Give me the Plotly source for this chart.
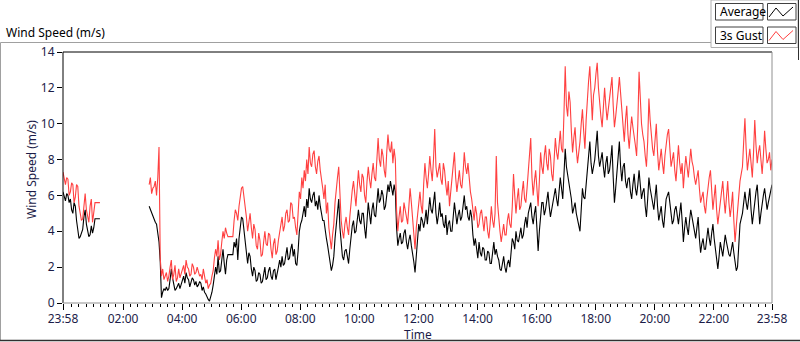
import plotly.graph_objects as go

# ---- data: 2.5-minute samples, starting 23:58 (24 values per hour row) ----
N = None
gust = [
    7.3, 6.8, 6.6, 7.0, 6.9, 6.0, 6.2, 6.7, 6.6, 5.6, 5.9, 6.6, 6.5, 5.4, 5.0, 4.6, 4.7, 5.6, 6.1, 5.2, 4.9, 4.5, 5.4, 5.8,
    4.5, 5.2, 5.6, 5.6, 5.6, 5.6, 5.6, N, N, N, N, N, N, N, N, N, N, N, N, N, N, N, N, N,
    N, N, N, N, N, N, N, N, N, N, N, N, N, N, N, N, N, N, N, N, N, N, 6.6, 7.0,
    6.1, 6.4, 6.5, 6.8, 6.0, 7.0, 8.7, 2.5, 1.5, 1.9, 1.3, 1.5, 1.7, 1.2, 1.5, 2.0, 2.4, 1.3, 1.6, 2.1, 1.2, 1.4, 1.9, 1.4,
    1.6, 1.9, 2.1, 1.6, 2.4, 2.0, 1.9, 1.5, 1.6, 2.2, 2.0, 1.6, 1.7, 2.0, 1.8, 1.5, 1.6, 1.3, 1.9, 1.4, 1.1, 1.3, 0.8, 1.0,
    1.1, 1.5, 1.8, 2.5, 3.0, 2.6, 3.5, 2.4, 2.7, 3.4, 4.0, 3.6, 4.2, 3.9, 3.7, 3.7, 3.7, 3.7, 3.7, 4.6, 5.2, 5.0, 4.6, 5.4,
    5.8, 6.4, 6.5, 5.9, 5.6, 4.8, 4.0, 4.6, 5.0, 4.2, 3.6, 4.4, 4.1, 3.2, 3.0, 3.9, 3.5, 2.6, 2.7, 3.4, 4.0, 3.3, 3.2, 3.9,
    3.8, 3.0, 2.5, 3.3, 3.6, 2.7, 2.9, 3.5, 4.0, 4.6, 4.8, 4.0, 4.3, 5.0, 5.2, 4.5, 4.6, 5.6, 5.5, 4.7, 4.8, 4.2, 3.8, 5.0,
    6.2, 5.8, 7.0, 6.4, 7.4, 6.8, 8.0, 7.2, 8.7, 7.8, 7.6, 8.3, 8.5, 7.6, 7.2, 7.9, 8.2, 7.4, 7.0, 6.4, 5.8, 6.6, 5.0, 5.6,
    4.2, 3.6, 3.0, 3.8, 4.4, 5.6, 6.5, 7.0, 7.6, 5.8, 4.6, 4.0, 3.6, 4.4, 4.8, 4.2, 3.8, 4.8, 5.8, 6.3, 6.8, 6.0, 5.4, 6.4,
    7.4, 6.6, 6.2, 7.2, 7.0, 6.0, 5.6, 6.8, 7.6, 6.9, 6.4, 7.2, 7.8, 7.0, 6.8, 8.0, 9.2, 8.0, 7.6, 8.6, 8.2, 7.4, 7.0, 8.4,
    9.4, 8.6, 8.4, 9.0, 7.8, 8.6, 8.0, 5.2, 4.0, 4.8, 5.4, 4.5, 4.6, 5.6, 5.2, 4.6, 4.4, 5.4, 6.4, 5.6, 4.8, 4.0, 3.0, 4.2,
    5.0, 5.8, 6.2, 5.4, 5.0, 6.6, 7.8, 7.0, 6.4, 7.2, 8.2, 7.4, 6.8, 8.0, 9.7, 7.6, 7.0, 7.4, 7.8, 6.9, 6.6, 7.8, 7.4, 6.6,
    6.0, 6.8, 5.4, 6.2, 7.0, 7.6, 8.4, 7.0, 6.2, 6.8, 7.4, 6.6, 6.4, 7.2, 8.4, 7.6, 7.2, 7.8, 6.8, 6.2, 5.8, 5.2, 4.6, 5.4,
    5.0, 4.2, 4.4, 5.0, 5.2, 4.6, 4.0, 4.8, 4.8, 4.0, 3.6, 4.4, 5.4, 4.6, 4.2, 5.0, 8.2, 5.6, 4.6, 4.0, 3.4, 4.0, 4.4, 3.8,
    3.8, 4.6, 5.0, 4.4, 4.2, 5.4, 7.2, 6.0, 5.0, 5.8, 6.4, 5.2, 5.4, 6.2, 6.8, 5.8, 5.6, 6.4, 7.2, 8.0, 9.2, 7.0, 6.0, 6.8,
    7.4, 6.4, 5.4, 6.8, 8.4, 7.6, 7.2, 8.2, 8.8, 7.8, 7.4, 8.6, 8.2, 7.2, 6.8, 8.0, 9.2, 8.4, 8.0, 8.8, 9.6, 8.6, 8.4, 10.6,
    13.2, 11.0, 10.4, 11.8, 11.2, 9.6, 8.4, 9.2, 9.8, 8.6, 7.8, 8.4, 9.0, 10.0, 10.8, 9.6, 8.6, 10.2, 11.6, 12.4, 13.2, 11.4, 10.2, 11.6,
    12.0, 12.8, 13.4, 12.0, 11.0, 10.4, 9.8, 11.2, 12.0, 11.0, 10.2, 10.8, 11.4, 12.2, 12.6, 11.0, 9.8, 10.4, 11.0, 11.8, 12.6, 11.6, 10.6, 9.8,
    9.0, 10.2, 11.0, 9.4, 8.6, 9.6, 10.4, 9.8, 9.4, 8.8, 8.2, 10.0, 12.9, 11.0, 10.0, 9.4, 9.0, 8.2, 7.6, 9.0, 11.4, 10.2, 9.2, 8.6,
    8.2, 9.2, 10.0, 8.4, 7.4, 8.0, 8.6, 7.8, 7.2, 8.2, 9.0, 9.4, 9.7, 8.6, 7.6, 8.0, 8.4, 7.4, 6.8, 7.8, 8.8, 7.8, 7.2, 7.8,
    6.4, 7.4, 8.2, 7.6, 7.0, 7.8, 8.6, 7.9, 7.6, 7.0, 6.6, 7.0, 7.4, 6.4, 5.6, 5.9, 6.2, 5.4, 5.0, 5.8, 6.6, 7.0, 7.4, 6.0,
    5.2, 5.9, 6.6, 5.2, 4.4, 5.0, 5.6, 6.2, 6.8, 5.8, 5.0, 5.9, 6.8, 5.6, 4.8, 5.4, 6.2, 4.6, 3.4, 4.3, 5.2, 6.2, 6.8, 7.2,
    7.6, 9.0, 10.3, 8.6, 7.4, 8.0, 8.6, 7.8, 7.0, 8.4, 10.2, 8.8, 7.8, 8.4, 8.8, 8.0, 7.2, 8.2, 9.6, 8.6, 7.8, 8.0, 8.4, 7.4,
    8.0,
]

average = [
    6.2, 5.9, 5.7, 6.1, 6.0, 5.6, 5.8, 5.2, 5.0, 5.6, 5.4, 4.6, 4.1, 3.6, 3.7, 3.9, 4.1, 4.8, 5.2, 4.4, 4.1, 3.7, 3.8, 4.3,
    3.9, 4.2, 4.7, 4.7, 4.7, 4.7, 4.7, N, N, N, N, N, N, N, N, N, N, N, N, N, N, N, N, N,
    N, N, N, N, N, N, N, N, N, N, N, N, N, N, N, N, N, N, N, N, N, N, 5.4, 5.2,
    5.0, 4.8, 4.7, 4.5, 4.4, 3.8, 3.4, 2.3, 0.3, 0.6, 0.8, 0.7, 0.9, 0.7, 0.8, 1.3, 1.9, 1.4, 1.0, 0.7, 0.8, 1.0, 1.1, 0.8,
    1.0, 1.2, 1.5, 1.1, 1.7, 1.4, 1.3, 0.9, 1.1, 1.4, 1.3, 1.0, 1.2, 0.9, 1.0, 1.2, 1.1, 0.7, 0.9, 0.6, 0.5, 0.3, 0.2, 0.1,
    0.3, 0.6, 1.0, 1.5, 2.0, 1.6, 2.6, 1.7, 1.8, 2.4, 3.0, 2.2, 1.6, 2.4, 2.7, 2.7, 2.7, 2.7, 2.7, 3.4, 3.1, 3.6, 2.4, 3.6,
    4.3, 4.8, 4.7, 4.0, 3.2, 2.6, 2.2, 2.8, 2.6, 1.9, 1.5, 2.0, 1.8, 1.2, 1.3, 1.7, 1.6, 1.1, 1.2, 1.6, 2.0, 1.3, 1.4, 1.8,
    2.0, 1.5, 1.3, 1.8, 1.9, 1.3, 1.6, 2.0, 2.4, 2.0, 2.6, 2.1, 2.2, 2.8, 3.1, 2.4, 2.5, 3.0, 3.3, 2.6, 3.0, 2.2, 2.1, 2.9,
    4.0, 4.4, 4.6, 5.0, 5.4, 4.8, 5.8, 5.3, 6.4, 5.8, 5.6, 6.0, 6.2, 5.4, 5.7, 5.2, 6.0, 5.4, 5.0, 4.6, 4.6, 4.0, 3.6, 3.2,
    2.8, 2.2, 1.8, 2.1, 2.6, 3.6, 4.4, 5.0, 5.8, 4.2, 3.2, 2.6, 2.4, 2.9, 3.0, 2.5, 2.2, 3.0, 3.8, 4.3, 4.6, 3.9, 4.0, 4.8,
    5.2, 4.6, 4.4, 5.0, 5.0, 4.2, 3.6, 4.6, 5.6, 5.0, 4.4, 5.2, 5.6, 4.9, 4.8, 5.6, 6.4, 5.6, 5.8, 6.3, 6.0, 5.2, 5.4, 6.0,
    6.6, 6.2, 6.8, 6.4, 6.0, 6.6, 6.2, 4.2, 3.2, 3.6, 3.9, 3.3, 3.4, 3.9, 4.1, 3.4, 3.0, 3.5, 3.8, 3.2, 2.8, 2.3, 1.7, 2.8,
    3.8, 4.4, 4.0, 4.8, 4.6, 4.2, 4.6, 5.2, 4.4, 5.0, 5.9, 5.2, 5.0, 5.6, 6.2, 5.0, 4.4, 4.9, 5.6, 4.8, 5.0, 4.4, 4.2, 4.9,
    3.8, 4.4, 4.6, 4.0, 4.0, 4.8, 5.6, 5.0, 4.4, 4.9, 5.2, 4.6, 4.8, 5.4, 6.0, 5.2, 5.4, 4.8, 4.6, 5.2, 4.8, 3.8, 3.2, 3.6,
    2.9, 2.5, 3.4, 2.8, 2.6, 3.1, 3.0, 2.4, 2.4, 2.9, 2.8, 2.2, 2.2, 2.8, 3.4, 2.7, 3.0, 2.6, 2.4, 1.9, 1.8, 2.2, 2.6, 2.0,
    1.7, 2.2, 2.4, 2.0, 3.0, 3.6, 3.4, 3.0, 4.0, 3.5, 3.4, 3.9, 4.2, 3.6, 3.8, 4.4, 4.8, 4.2, 5.0, 5.3, 5.6, 4.8, 4.4, 5.0,
    5.4, 4.2, 2.9, 4.0, 5.0, 5.6, 5.6, 4.9, 5.2, 5.8, 6.2, 5.4, 4.8, 5.2, 5.6, 6.0, 6.4, 5.8, 5.4, 6.2, 7.0, 6.4, 5.8, 7.2,
    8.6, 7.6, 7.2, 6.6, 6.2, 5.8, 5.0, 5.4, 5.6, 5.0, 4.6, 4.2, 4.0, 5.2, 6.4, 5.9, 5.8, 6.6, 7.4, 8.2, 9.0, 7.8, 7.2, 7.6,
    8.0, 8.8, 9.6, 8.2, 7.6, 8.0, 8.4, 7.6, 7.0, 7.8, 8.2, 7.2, 7.4, 8.0, 8.8, 7.0, 5.6, 6.4, 7.2, 8.2, 9.0, 7.6, 6.8, 7.6,
    7.8, 6.8, 6.4, 6.9, 7.0, 6.2, 5.8, 6.6, 7.2, 6.4, 6.0, 6.6, 7.4, 6.6, 5.8, 6.2, 6.4, 5.4, 4.8, 5.8, 7.0, 6.4, 6.0, 5.4,
    5.2, 5.9, 6.6, 5.4, 4.6, 5.0, 5.4, 4.6, 4.2, 5.0, 5.8, 6.0, 6.2, 5.6, 5.0, 4.4, 4.6, 5.2, 5.4, 4.8, 4.4, 5.0, 5.6, 4.6,
    3.4, 4.2, 4.8, 4.2, 3.8, 4.6, 5.2, 4.8, 4.4, 3.9, 3.6, 4.2, 4.8, 3.6, 2.8, 3.3, 3.6, 3.0, 3.0, 3.6, 4.2, 3.6, 3.2, 3.9,
    4.4, 3.6, 3.0, 2.4, 1.9, 2.6, 3.4, 3.0, 2.6, 3.2, 3.8, 3.4, 3.0, 2.7, 2.6, 3.0, 3.4, 2.8, 2.2, 1.8, 2.0, 3.2, 4.4, 4.7,
    5.0, 5.6, 6.2, 5.6, 5.2, 5.8, 6.4, 5.2, 4.4, 5.0, 5.8, 6.2, 6.6, 5.4, 4.4, 5.0, 5.6, 6.0, 6.4, 5.8, 5.2, 5.6, 6.0, 6.3,
    6.6,
]

assert len(gust) == len(average) == 577, (len(gust), len(average))

# sample times in hours after 23:58 (2.5-minute logging interval)
hours = [i / 24 for i in range(len(gust))]

tick_hours = [0, 2 + 2/60, 4 + 2/60, 6 + 2/60, 8 + 2/60, 10 + 2/60, 12 + 2/60,
              14 + 2/60, 16 + 2/60, 18 + 2/60, 20 + 2/60, 22 + 2/60, 24]
tick_labels = ["23:58", "02:00", "04:00", "06:00", "08:00", "10:00", "12:00",
               "14:00", "16:00", "18:00", "20:00", "22:00", "23:58"]
y_ticks = [0, 2, 4, 6, 8, 10, 12, 14]

# ---- layout helpers (pixel -> paper) ----
W, H = 800, 342
ML, MR, MT, MB = 63, 28, 52, 39
PW, PH = W - ML - MR, H - MT - MB


def px(x):
    return (x - ML) / PW


def py(y):
    return (H - MB - y) / PH


FONT = "Noto Sans"
AX_COL = "#1c1c48"

fig = go.Figure()
fig.add_trace(go.Scatter(x=hours, y=average, mode="lines", name="Average",
                         line=dict(color="#000000", width=1.1), connectgaps=False,
                         hoverinfo="skip"))
fig.add_trace(go.Scatter(x=hours, y=gust, mode="lines", name="3s Gust",
                         line=dict(color="#ff4040", width=1.1), connectgaps=False,
                         hoverinfo="skip"))

shapes = []


def line(x0, y0, x1, y1, color, width=1):
    shapes.append(dict(type="line", xref="paper", yref="paper",
                       x0=px(x0), y0=py(y0), x1=px(x1), y1=py(y1),
                       line=dict(color=color, width=width)))


def rect(x0, y0, x1, y1, color, fill="rgba(0,0,0,0)", width=1):
    shapes.append(dict(type="rect", xref="paper", yref="paper",
                       x0=px(x0), y0=py(y0), x1=px(x1), y1=py(y1),
                       fillcolor=fill, line=dict(color=color, width=width)))


# outer panel
line(0.5, 42.5, 711, 42.5, "#a0a0a0")
line(0.5, 42.5, 0.5, 341, "#a0a0a0")
line(0, 340.5, 800, 340.5, "#303030", 1.5)
# plot frame
line(ML, MT, ML, H - MB, "#000000")
line(ML, MT, W - MR, MT, "#000000")
line(ML, H - MB, W - MR, H - MB, "#909090")
line(W - MR, MT, W - MR, H - MB, "#909090")
# legend panel
rect(711, 0, 798, 47.5, "#b0b0b0", fill="#ffffff")
line(798.5, 0, 798.5, 60, "#303030")
rect(715.5, 3.5, 763, 20, "#404040")
rect(767.5, 3.5, 796, 20, "#404040")
rect(715.5, 27, 763, 43.5, "#404040")
rect(767.5, 27, 796, 43.5, "#404040")
for dy, c in [(0, "#000000"), (23.5, "#ff4040")]:
    pts = [(769, 17), (776, 8), (783, 16), (793, 7)]
    for (xa, ya), (xb, yb) in zip(pts[:-1], pts[1:]):
        line(xa, ya + dy, xb, yb + dy, c)

annotations = [
    dict(text="Wind Speed (m/s)", x=px(4), y=py(32), xanchor="left", yanchor="middle",
         font=dict(size=12, color="#000000", family=FONT)),
    dict(text="Wind Speed (m/s)", x=px(31), y=py(170), xanchor="center", yanchor="middle",
         textangle=-90, font=dict(size=12, color=AX_COL, family=FONT)),
    dict(text="Time", x=px(418), y=py(334), xanchor="center", yanchor="middle",
         font=dict(size=12, color=AX_COL, family=FONT)),
    dict(text="Average", x=px(718), y=py(12), xanchor="left", yanchor="middle",
         font=dict(size=12, color="#000000", family=FONT)),
    dict(text="3s Gust", x=px(718), y=py(35.5), xanchor="left", yanchor="middle",
         font=dict(size=12, color="#000000", family=FONT)),
]
for a in annotations:
    a.update(xref="paper", yref="paper", showarrow=False)

fig.update_layout(
    width=W, height=H,
    margin=dict(l=ML, r=MR, t=MT, b=MB, pad=0),
    paper_bgcolor="#ffffff", plot_bgcolor="#ffffff",
    showlegend=False,
    shapes=shapes, annotations=annotations,
    font=dict(family=FONT, size=12, color=AX_COL),
    xaxis=dict(range=[0, 24], showgrid=False, zeroline=False, showline=False,
               tickmode="array", tickvals=tick_hours, ticktext=tick_labels,
               ticks="outside", ticklen=6, tickwidth=1, tickcolor="#000000",
               ticklabelstandoff=-1,
               tickfont=dict(size=12, color=AX_COL, family=FONT),
               minor=dict(ticks="outside", ticklen=3, tickwidth=1, tickcolor="#000000",
                          tickmode="linear", tick0=2/60, dtick=0.25, showgrid=False)),
    yaxis=dict(range=[0, 14], showgrid=False, zeroline=False, showline=False,
               tickmode="array", tickvals=y_ticks,
               ticks="outside", ticklen=5, tickwidth=1, tickcolor="#000000",
               tickfont=dict(size=12, color=AX_COL, family=FONT)),
)

fig.write_html("out.html", config={"displayModeBar": False},
               post_script="document.body.style.margin='0';document.body.style.overflow='hidden';")
